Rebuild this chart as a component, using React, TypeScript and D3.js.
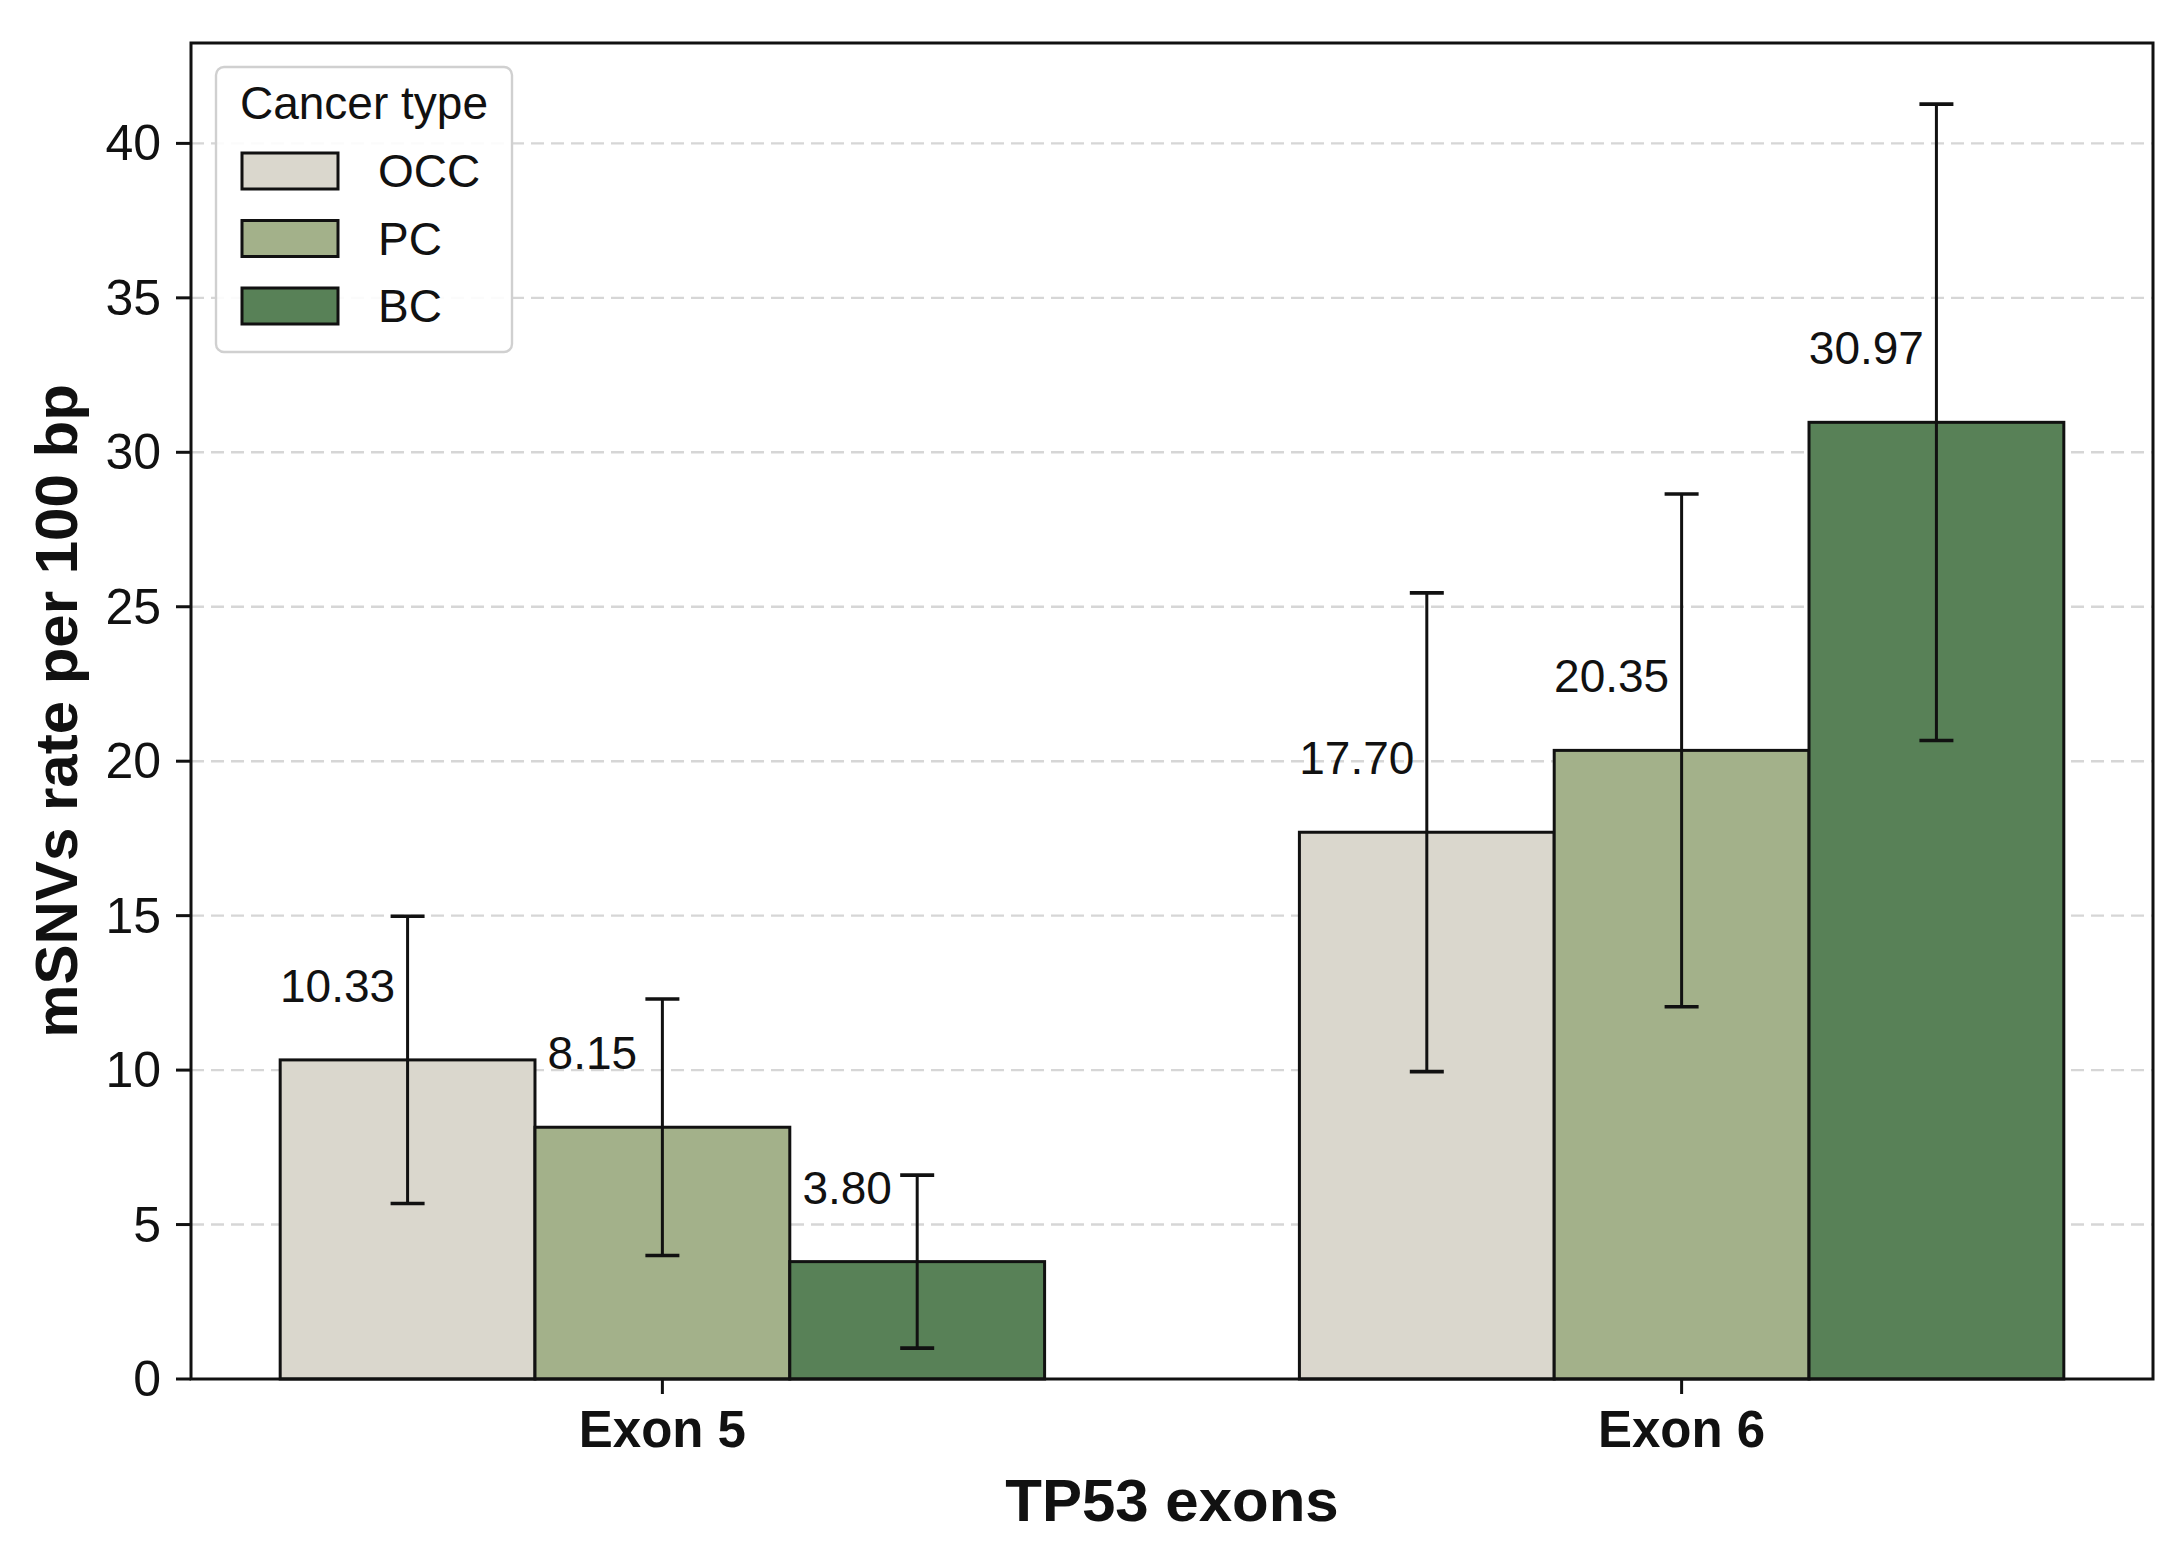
import * as d3 from 'd3'

const exons = ['Exon 5', 'Exon 6']
const cancerTypes = ['OCC', 'PC', 'BC']
const occRates = [10.33, 17.7]
const pcRates = [8.15, 20.35]
const bcRates = [3.8, 30.97]
const occErrors = [4.65, 7.75]
const pcErrors = [4.15, 8.3]
const bcErrors = [2.8, 10.3]
const yTicks = [0, 5, 10, 15, 20, 25, 30, 35, 40]
const typeColors = ['#dad7cd', '#a3b18a', '#588157']

const rates = [occRates, pcRates, bcRates]
const errors = [occErrors, pcErrors, bcErrors]

const W = 2171
const H = 1546
const font = '"Liberation Sans", Arial, sans-serif'

export default function App() {
  const left = 191
  const right = 2153
  const top = 43
  const bottom = 1379
  const barW = 0.25

  const x = d3.scaleLinear().domain([-0.4625, 1.4625]).range([left, right])
  const y = d3.scaleLinear().domain([0, 43.25]).range([bottom, top])
  const bw = x(barW) - x(0)

  const bars = cancerTypes.flatMap((t, ti) =>
    exons.map((e, ei) => {
      const cx = x(ei + (ti - 1) * barW)
      return { t, ti, ei, cx, v: rates[ti][ei], err: errors[ti][ei] }
    })
  )

  return (
    <div style={{ position: 'absolute', left: 0, top: 0 }}>
      <svg width={W} height={H} style={{ display: 'block', background: '#fff' }} fontFamily={font}>
        {/* grid */}
        {yTicks.filter((t) => t > 0).map((t) => (
          <line key={'g' + t} x1={left} x2={right} y1={y(t)} y2={y(t)}
            stroke="#d6d6d6" strokeWidth={2.4} strokeDasharray="13,7" />
        ))}

        {/* bars */}
        {bars.map((b) => (
          <rect key={'b' + b.t + b.ei} x={b.cx - bw / 2} y={y(b.v)} width={bw} height={y(0) - y(b.v)}
            fill={typeColors[b.ti]} stroke="#111" strokeWidth={3} />
        ))}

        {/* error bars */}
        {bars.map((b) => (
          <g key={'e' + b.t + b.ei} stroke="#111" strokeWidth={3}>
            <line x1={b.cx} x2={b.cx} y1={y(b.v + b.err)} y2={y(b.v - b.err)} />
            <line x1={b.cx - 17} x2={b.cx + 17} y1={y(b.v + b.err)} y2={y(b.v + b.err)} strokeWidth={3.6} />
            <line x1={b.cx - 17} x2={b.cx + 17} y1={y(b.v - b.err)} y2={y(b.v - b.err)} strokeWidth={3.6} />
          </g>
        ))}

        {/* value labels */}
        {bars.map((b) => (
          <text key={'v' + b.t + b.ei} x={b.cx - 70} y={y(b.v) - 74} dominantBaseline="central"
            textAnchor="middle" fontSize={46} fill="#111">
            {b.v.toFixed(2)}
          </text>
        ))}

        {/* spines */}
        <rect x={left} y={top} width={right - left} height={bottom - top} fill="none" stroke="#111" strokeWidth={3} />

        {/* y ticks */}
        {yTicks.map((t) => (
          <g key={'y' + t}>
            <line x1={left - 15} x2={left} y1={y(t)} y2={y(t)} stroke="#111" strokeWidth={3} />
            <text x={left - 30} y={y(t)} textAnchor="end" dominantBaseline="central" fontSize={50} fill="#111">
              {t}
            </text>
          </g>
        ))}

        {/* x ticks */}
        {exons.map((e, i) => (
          <g key={'x' + e}>
            <line x1={x(i)} x2={x(i)} y1={bottom} y2={bottom + 15} stroke="#111" strokeWidth={3} />
            <text x={x(i)} y={bottom + 50} textAnchor="middle" dominantBaseline="central"
              fontSize={51} fontWeight="bold" fill="#111">
              {e}
            </text>
          </g>
        ))}

        {/* axis titles */}
        <text x={(left + right) / 2} y={1500} textAnchor="middle" dominantBaseline="central"
          fontSize={60} fontWeight="bold" fill="#111">
          TP53 exons
        </text>
        <text transform={`translate(56,${(top + bottom) / 2}) rotate(-90)`} textAnchor="middle"
          dominantBaseline="central" fontSize={60} fontWeight="bold" fill="#111">
          mSNVs rate per 100 bp
        </text>

        {/* legend */}
        <g>
          <rect x={216} y={67} width={296} height={285} rx={8} fill="#fff" fillOpacity={0.9}
            stroke="#d0d0d0" strokeWidth={2.4} />
          <text x={364} y={103} textAnchor="middle" dominantBaseline="central" fontSize={46} fill="#111">
            Cancer type
          </text>
          {cancerTypes.map((t, i) => (
            <g key={'l' + t}>
              <rect x={242} y={153 + i * 67.5} width={96} height={36} fill={typeColors[i]}
                stroke="#111" strokeWidth={3} />
              <text x={378} y={171 + i * 67.5} dominantBaseline="central" fontSize={46} fill="#111">
                {t}
              </text>
            </g>
          ))}
        </g>
      </svg>
    </div>
  )
}
